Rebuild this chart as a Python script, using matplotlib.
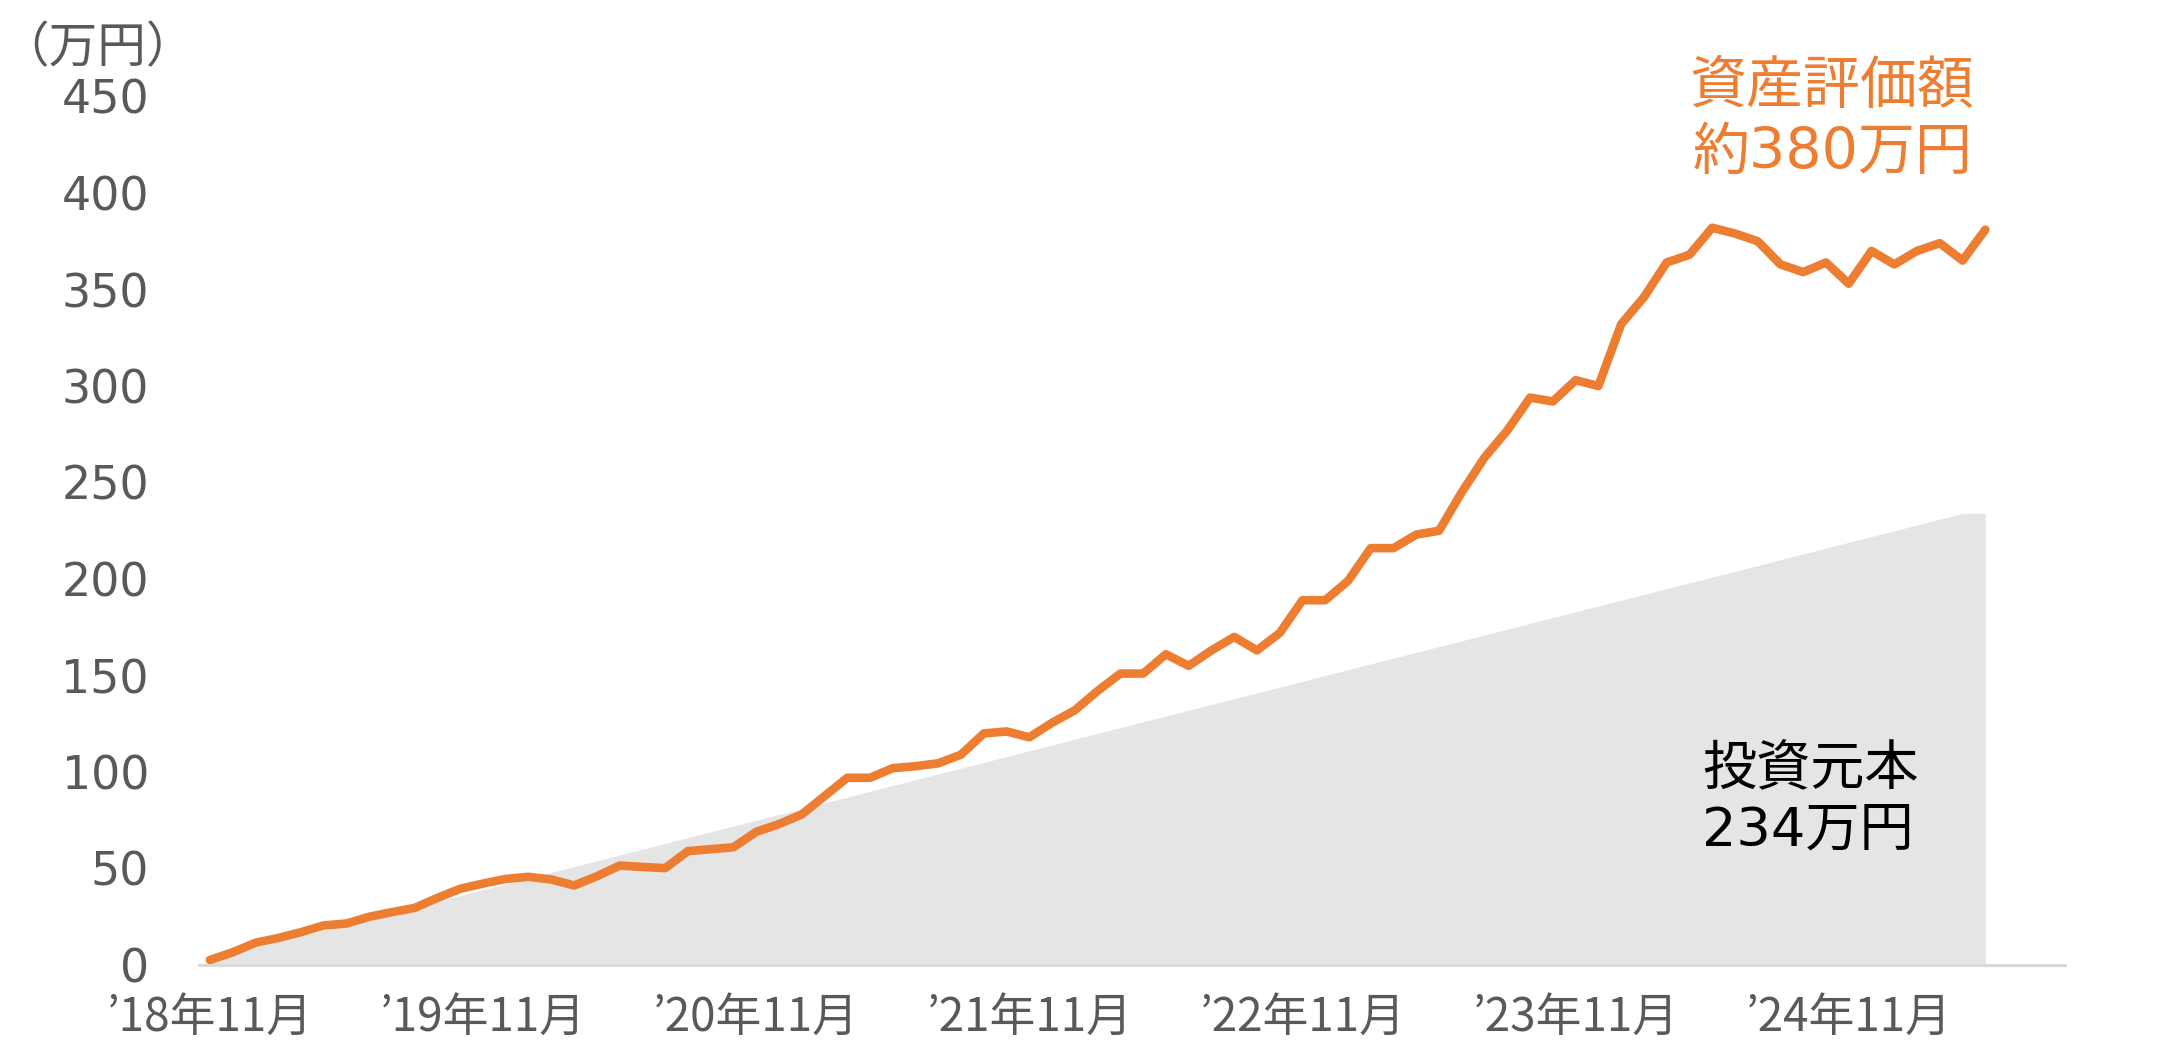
"""Asset value vs. invested principal (monthly, '18/11 - '25/05)."""
import matplotlib.pyplot as plt
import numpy as np

# DejaVu for digits (wide, like the original), Noto CJK for the kanji
plt.rcParams['font.family'] = ['DejaVu Sans', 'Noto Sans CJK JP']

W, H = 2162, 1048

# months since 2018-11
months = np.arange(79)
tick_pos = [0, 12, 24, 36, 48, 60, 72]
tick_labels = ["’18年11月", "’19年11月", "’20年11月", "’21年11月",
               "’22年11月", "’23年11月", "’24年11月"]
y_ticks = [0, 50, 100, 150, 200, 250, 300, 350, 400, 450]

# 資産評価額 (万円)
asset_value = [
    2.6, 6.6, 11.5, 14, 17, 20.5, 21.5, 25, 27.4, 29.6,
    34.8, 39.5, 42.2, 44.6, 45.7, 44.3, 41.2, 46, 51.5, 50.8,
    50.2, 59, 60, 61, 69, 73, 78, 87.5, 97, 97,
    102, 103, 104.5, 109, 120, 121, 118, 125.5, 132, 142,
    151, 151, 161, 155, 163, 170, 163, 172, 189, 189,
    199, 216, 216, 223, 225, 245, 263, 277, 294, 292,
    303, 300, 332, 346, 364, 368, 382, 379, 375, 363,
    359, 364, 353, 370, 363, 370, 374, 365, 381,
]
# 投資元本 (万円)
principal = [
    3, 6, 9, 12, 15, 18, 21, 24, 27, 30,
    33, 36, 39, 42, 45, 48, 51, 54, 57, 60,
    63, 66, 69, 72, 75, 78, 81, 84, 87, 90,
    93, 96, 99, 102, 105, 108, 111, 114, 117, 120,
    123, 126, 129, 132, 135, 138, 141, 144, 147, 150,
    153, 156, 159, 162, 165, 168, 171, 174, 177, 180,
    183, 186, 189, 192, 195, 198, 201, 204, 207, 210,
    213, 216, 219, 222, 225, 228, 231, 234, 234,
]

ORANGE = "#ed7d31"
GRAY_TXT = "#595959"

fig = plt.figure(figsize=(W / 100, H / 100), dpi=100)
ax = fig.add_axes([199 / W, 1 - 965 / H, (2065 - 199) / W, (965 - 96.5) / H])

ax.fill_between(months, principal, 0, color="#e5e5e5", lw=0, zorder=1)
ax.plot(months, asset_value, color=ORANGE, lw=6.2,
        solid_joinstyle="round", solid_capstyle="round", zorder=3)

ax.set_xlim(-0.48, 81.5)
ax.set_ylim(0, 450)
ax.set_xticks(tick_pos)
ax.set_xticklabels(tick_labels, family=['Noto Sans CJK JP', 'DejaVu Sans'])
ax.set_yticks(y_ticks)
ax.tick_params(axis="both", length=0, labelsize=33, colors=GRAY_TXT)
ax.tick_params(axis="y", pad=36)
ax.tick_params(axis="x", pad=20)

for side in ("top", "right", "left"):
    ax.spines[side].set_visible(False)
ax.spines["bottom"].set_color("#d9d9d9")
ax.spines["bottom"].set_linewidth(2.2)
ax.spines["bottom"].set_zorder(2)

fig.text(97 / W, 1 - 48 / H, "（万円）", fontsize=35, color=GRAY_TXT,
         ha="center", va="center")

ax.text(1832 / W, 1 - 120 / H, "資産評価額\n約380万円", transform=fig.transFigure,
        fontsize=41, color=ORANGE, ha="center", va="center", linespacing=1.25)
ax.text(1702 / W, 1 - 800 / H, "投資元本\n234万円", transform=fig.transFigure,
        fontsize=39, color="black", ha="left", va="center", linespacing=1.2)

fig.savefig("out.png", dpi=100, facecolor="white")
